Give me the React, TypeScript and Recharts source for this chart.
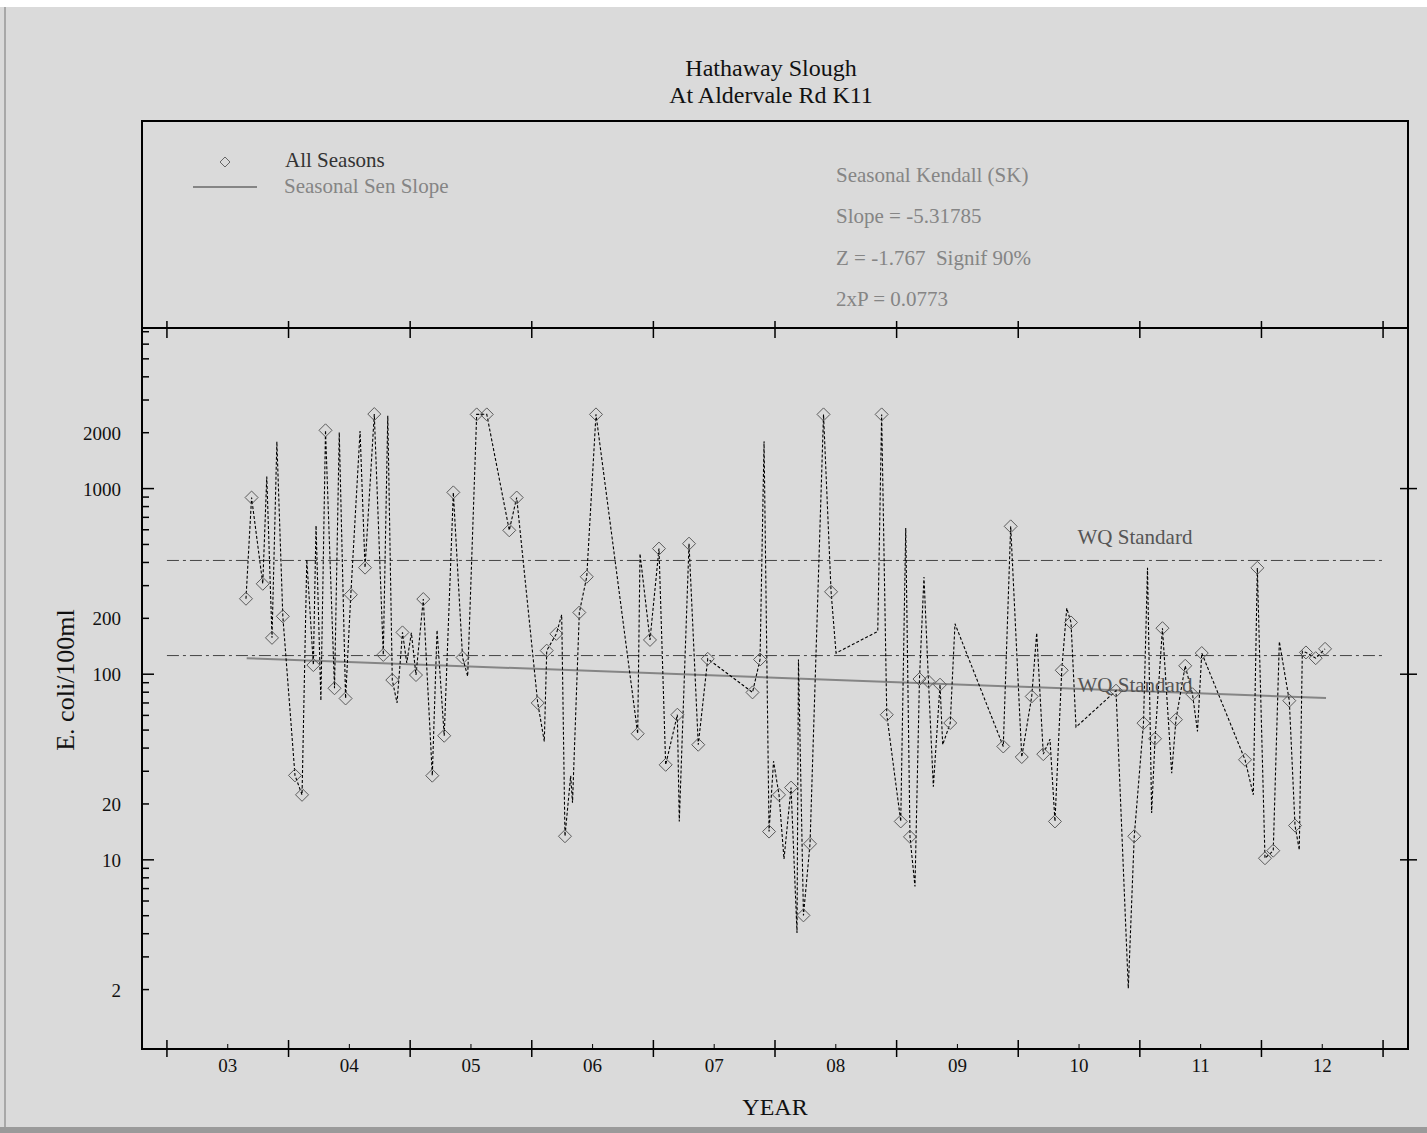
import React from 'react';
import { ComposedChart, Line, XAxis, YAxis } from 'recharts';

// sample dates (decimal years)
const sampleDates = [
  2003.150, 2003.196, 2003.288, 2003.321, 2003.364, 2003.404, 2003.453, 2003.553, 2003.611, 2003.650,
  2003.704, 2003.726, 2003.766, 2003.804, 2003.878, 2003.917, 2003.969, 2004.012, 2004.088, 2004.129,
  2004.205, 2004.279, 2004.316, 2004.353, 2004.392, 2004.437, 2004.472, 2004.510, 2004.548, 2004.608,
  2004.682, 2004.721, 2004.780, 2004.855, 2004.931, 2004.973, 2005.047, 2005.130, 2005.315, 2005.376,
  2005.549, 2005.603, 2005.623, 2005.702, 2005.746, 2005.773, 2005.820, 2005.835, 2005.891, 2005.952,
  2006.028, 2006.371, 2006.390, 2006.472, 2006.546, 2006.601, 2006.697, 2006.713, 2006.793, 2006.869,
  2006.947, 2007.315, 2007.377, 2007.410, 2007.451, 2007.488, 2007.533, 2007.574, 2007.632, 2007.681,
  2007.693, 2007.734, 2007.788, 2007.899, 2007.961, 2008.002, 2008.345, 2008.377, 2008.419, 2008.534,
  2008.575, 2008.610, 2008.651, 2008.688, 2008.725, 2008.762, 2008.802, 2008.857, 2008.879, 2008.941,
  2008.980, 2009.377, 2009.438, 2009.529, 2009.611, 2009.652, 2009.706, 2009.761, 2009.802, 2009.858,
  2009.899, 2009.934, 2009.975, 2010.304, 2010.405, 2010.454, 2010.530, 2010.563, 2010.597, 2010.625,
  2010.686, 2010.762, 2010.797, 2010.873, 2010.933, 2010.974, 2011.009, 2011.365, 2011.433, 2011.466,
  2011.529, 2011.597, 2011.647, 2011.729, 2011.776, 2011.811, 2011.836, 2011.866, 2011.946, 2012.023,
];

// E. coli per 100ml
const ecoliValues = [
  255, 895, 307, 1160, 157, 1790, 205, 28.5, 22.4, 414,
  112, 632, 72, 2060, 84, 2010, 74, 268, 2040, 375,
  2520, 127, 2470, 93, 70, 168, 115, 167, 99, 254,
  28.4, 173, 46.6, 954, 123, 97.5, 2510, 2510, 596, 895,
  70, 43.4, 134, 165, 209, 13.4, 28.4, 20.3, 215, 335,
  2510, 47.8, 446, 153, 475, 32.5, 60.5, 16.1, 505, 41.7,
  121, 79.8, 120, 1800, 14.2, 34, 22.4, 10.1, 24.5, 4.04,
  120, 5.02, 12.2, 2510, 278, 130, 170, 2510, 60.5, 16.1,
  614, 13.3, 7.18, 94.2, 334, 91.4, 24.8, 87.8, 41.7, 54.6,
  187, 40.8, 626, 35.8, 75.9, 167, 37.1, 44.7, 16.1, 105,
  227, 190, 51.9, 81.5, 2.03, 13.4, 54.5, 374, 17.9, 44.9,
  177, 29.3, 56.9, 111, 78, 49.2, 130, 34.6, 22.4, 374,
  10.2, 11.2, 150, 72, 15.3, 11.3, 133, 131, 122, 137,
];

// 1 = drawn with a diamond marker
const hasMarker = [
  1, 1, 1, 0, 1, 0, 1, 1, 1, 0,
  1, 0, 0, 1, 1, 0, 1, 1, 0, 1,
  1, 1, 0, 1, 0, 1, 0, 0, 1, 1,
  1, 0, 1, 1, 1, 0, 1, 1, 1, 1,
  1, 0, 1, 1, 0, 1, 0, 0, 1, 1,
  1, 1, 0, 1, 1, 1, 1, 0, 1, 1,
  1, 1, 1, 0, 1, 0, 1, 0, 1, 0,
  0, 1, 1, 1, 1, 0, 0, 1, 1, 1,
  0, 1, 0, 1, 0, 1, 0, 1, 0, 1,
  0, 1, 1, 1, 1, 0, 1, 0, 1, 1,
  0, 1, 0, 1, 0, 1, 1, 0, 0, 1,
  1, 0, 1, 1, 1, 0, 1, 1, 0, 1,
  1, 1, 0, 1, 1, 0, 0, 1, 1, 1,
];

const senDates = [2003.156, 2012.031];
const senValues = [122, 74.4];

const wqDates = [2002.5, 2012.5];
const wqSingleSample = 410;
const wqGeoMean = 126;

const yearTicks = [2003, 2004, 2005, 2006, 2007, 2008, 2009, 2010, 2011, 2012];
const yearLabels = ['03', '04', '05', '06', '07', '08', '09', '10', '11', '12'];
const yearEdges = [2002.5, 2003.5, 2004.5, 2005.5, 2006.5, 2007.5, 2008.5, 2009.5, 2010.5, 2011.5, 2012.5];

const yTicks = [
  2, 3, 4, 5, 6, 7, 8, 9,
  10, 20, 30, 40, 50, 60, 70, 80, 90,
  100, 200, 300, 400, 500, 600, 700, 800, 900,
  1000, 2000, 3000, 4000, 5000, 6000, 7000,
];
const yMajor = [10, 100, 1000];
const yLabelled = [2, 10, 20, 100, 200, 1000, 2000];

const samples = sampleDates.map((t, i) => ({ t, v: ecoliValues[i], m: hasMarker[i] }));
const senLine = senDates.map((t, i) => ({ t, v: senValues[i] }));
const wqHigh = wqDates.map((t) => ({ t, v: wqSingleSample }));
const wqLow = wqDates.map((t) => ({ t, v: wqGeoMean }));

const FONT = "'Liberation Serif', 'Times New Roman', serif";
const GREY = '#858585';

function BottomTick(props: any) {
  const { x, y, payload } = props;
  const idx = yearTicks.indexOf(payload.value);
  if (idx < 0) {
    return <line x1={x} x2={x} y1={y - 9} y2={y + 8} stroke="#000" strokeWidth={1.5} />;
  }
  return (
    <g>
      <line x1={x} x2={x} y1={y - 5} y2={y} stroke="#000" strokeWidth={1} />
      <text x={x} y={y + 23} textAnchor="middle" fontFamily={FONT} fontSize={19} fill="#111">
        {yearLabels[idx]}
      </text>
    </g>
  );
}

function TopTick(props: any) {
  const { x, y } = props;
  return <line x1={x} x2={x} y1={y - 7} y2={y + 10} stroke="#000" strokeWidth={1.5} />;
}

function LeftTick(props: any) {
  const { x, y, payload } = props;
  const major = yMajor.includes(payload.value);
  const len = major ? 12 : 7;
  return (
    <g>
      <line x1={x} x2={x + len} y1={y} y2={y} stroke="#000" strokeWidth={1.5} />
      {yLabelled.includes(payload.value) && (
        <text x={x - 21} y={y + 7} textAnchor="end" fontFamily={FONT} fontSize={19} fill="#111">
          {payload.value}
        </text>
      )}
    </g>
  );
}

function RightTick(props: any) {
  const { x, y } = props;
  return <line x1={x - 8} x2={x + 9} y1={y} y2={y} stroke="#000" strokeWidth={1.5} />;
}

function diamondDot(props: any) {
  const { cx, cy, payload, index } = props;
  if (!payload || !payload.m || cx == null || cy == null) return <g key={`d${index}`} />;
  const r = 6.5;
  return (
    <path
      key={`d${index}`}
      d={`M${cx},${cy - r} L${cx + r},${cy} L${cx},${cy + r} L${cx - r},${cy} Z`}
      fill="none"
      stroke="#5a5a5a"
      strokeWidth={1}
    />
  );
}

export default function App() {
  return (
    <div style={{ position: 'absolute', left: 0, top: 0, width: 1427, height: 1133, background: '#dadada', overflow: 'hidden' }}>
      <div style={{ position: 'absolute', left: 0, top: 0, width: 1427, height: 7, background: '#fff' }} />
      <div style={{ position: 'absolute', left: 4, top: 7, width: 2, height: 1126, background: '#a8a8a8' }} />
      <div style={{ position: 'absolute', left: 0, top: 1127, width: 1427, height: 6, background: '#9a9a9a' }} />
      <div style={{ position: 'absolute', left: 0, top: 0 }}>
        <ComposedChart width={1427} height={1133} margin={{ top: 308, right: 0, bottom: 24, left: 62 }}>
          <XAxis
            xAxisId="b"
            dataKey="t"
            type="number"
            domain={[2002.295, 2012.705]}
            allowDataOverflow
            ticks={[...yearEdges, ...yearTicks].sort((a, b) => a - b)}
            interval={0}
            tick={<BottomTick />}
            tickLine={false}
            axisLine={false}
            tickSize={0}
            tickMargin={0}
            height={60}
          />
          <XAxis
            xAxisId="t"
            orientation="top"
            dataKey="t"
            type="number"
            domain={[2002.295, 2012.705]}
            allowDataOverflow
            ticks={yearEdges}
            interval={0}
            tick={<TopTick />}
            tickLine={false}
            axisLine={false}
            tickSize={0}
            tickMargin={0}
            height={20}
          />
          <YAxis
            yAxisId="l"
            type="number"
            scale="log"
            domain={[0.957, 7330]}
            allowDataOverflow
            ticks={yTicks}
            interval={0}
            tick={<LeftTick />}
            tickLine={false}
            axisLine={false}
            tickSize={0}
            tickMargin={0}
            width={80}
          />
          <YAxis
            yAxisId="r"
            orientation="right"
            type="number"
            scale="log"
            domain={[0.957, 7330]}
            allowDataOverflow
            ticks={yMajor}
            interval={0}
            tick={<RightTick />}
            tickLine={false}
            axisLine={false}
            tickSize={0}
            tickMargin={0}
            width={19}
          />
          <Line
            xAxisId="t"
            yAxisId="r"
            data={wqHigh}
            dataKey="v"
            stroke="#444"
            strokeWidth={1}
            strokeDasharray="12 4 3 4"
            dot={false}
            isAnimationActive={false}
          />
          <Line
            xAxisId="b"
            yAxisId="l"
            data={wqLow}
            dataKey="v"
            stroke="#444"
            strokeWidth={1}
            strokeDasharray="12 4 3 4"
            dot={false}
            isAnimationActive={false}
          />
          <Line
            xAxisId="b"
            yAxisId="l"
            data={senLine}
            dataKey="v"
            stroke={GREY}
            strokeWidth={2}
            dot={false}
            isAnimationActive={false}
          />
          <Line
            xAxisId="b"
            yAxisId="l"
            data={samples}
            dataKey="v"
            type="linear"
            stroke="#000"
            strokeWidth={1.1}
            strokeDasharray="3 2"
            dot={diamondDot}
            isAnimationActive={false}
          />
        </ComposedChart>
      </div>
      <svg
        width={1427}
        height={1133}
        style={{ position: 'absolute', left: 0, top: 0, pointerEvents: 'none' }}
        fontFamily={FONT}
      >
        <rect x={142} y={121} width={1266} height={928} fill="none" stroke="#000" strokeWidth={2} />
        <line x1={142} x2={1408} y1={328} y2={328} stroke="#000" strokeWidth={2} />

        <text x={771} y={76} textAnchor="middle" fontSize={24} fill="#111">Hathaway Slough</text>
        <text x={771} y={103} textAnchor="middle" fontSize={24} fill="#111">At Aldervale Rd K11</text>

        <path d="M225,157 L230,162 L225,167 L220,162 Z" fill="none" stroke="#666" strokeWidth={1} />
        <text x={285} y={167} fontSize={21} fill="#333">All Seasons</text>
        <line x1={193} x2={257} y1={187} y2={187} stroke={GREY} strokeWidth={2} />
        <text x={284} y={193} fontSize={21} fill={GREY}>Seasonal Sen Slope</text>

        <text x={836} y={182} fontSize={21} fill={GREY}>Seasonal Kendall (SK)</text>
        <text x={836} y={223} fontSize={21} fill={GREY}>Slope = -5.31785</text>
        <text x={836} y={265} fontSize={21} fill={GREY} style={{ whiteSpace: 'pre' }}>Z = -1.767  Signif 90%</text>
        <text x={836} y={306} fontSize={21} fill={GREY}>2xP = 0.0773</text>

        <text x={1135} y={544} textAnchor="middle" fontSize={21} fill="#555">WQ Standard</text>
        <text x={1135} y={692} textAnchor="middle" fontSize={21} fill="#555">WQ Standard</text>

        <text x={775} y={1115} textAnchor="middle" fontSize={24} fill="#111">YEAR</text>
        <text transform="translate(74,680) rotate(-90)" textAnchor="middle" fontSize={26} fill="#111">E. coli/100ml</text>
      </svg>
    </div>
  );
}
